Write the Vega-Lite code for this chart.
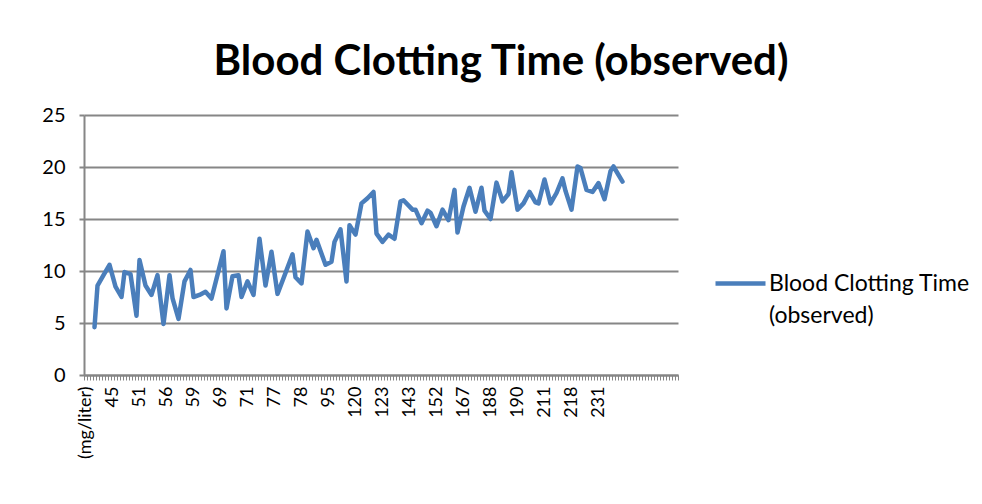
{
  "$schema": "https://vega.github.io/schema/vega-lite/v6.json",
  "width": 594,
  "height": 260,
  "autosize": {"type": "none"},
  "padding": {"left": 84, "top": 115, "right": 304, "bottom": 129},
  "background": "white",
  "title": {
    "text": "Blood Clotting Time (observed)",
    "font": "Lato",
    "fontSize": 42,
    "fontWeight": "bold",
    "color": "#000000",
    "anchor": "middle",
    "baseline": "alphabetic",
    "offset": -12,
    "dx": 120
  },
  "data": {
    "values": [
      {"i": 4, "v": 4.6}, {"i": 5, "v": 8.6}, {"i": 7, "v": 9.6}, {"i": 9, "v": 10.6},
      {"i": 11, "v": 8.5}, {"i": 13, "v": 7.5}, {"i": 14, "v": 9.9}, {"i": 16, "v": 9.7},
      {"i": 18, "v": 5.7}, {"i": 19, "v": 11.05}, {"i": 21, "v": 8.6}, {"i": 23, "v": 7.7},
      {"i": 25, "v": 9.6}, {"i": 27, "v": 4.9}, {"i": 29, "v": 9.6}, {"i": 30, "v": 7.4},
      {"i": 32, "v": 5.4}, {"i": 34, "v": 9.0}, {"i": 36, "v": 10.1}, {"i": 37, "v": 7.5},
      {"i": 39, "v": 7.7}, {"i": 41, "v": 8.0}, {"i": 43, "v": 7.35}, {"i": 47, "v": 11.9},
      {"i": 48, "v": 6.4}, {"i": 50, "v": 9.5}, {"i": 52, "v": 9.6}, {"i": 53, "v": 7.5},
      {"i": 55, "v": 9.0}, {"i": 57, "v": 7.7}, {"i": 59, "v": 13.1}, {"i": 61, "v": 8.6},
      {"i": 63, "v": 11.85}, {"i": 65, "v": 7.8}, {"i": 67, "v": 9.3}, {"i": 70, "v": 11.6},
      {"i": 71, "v": 9.4}, {"i": 73, "v": 8.8}, {"i": 75, "v": 13.8}, {"i": 77, "v": 12.2},
      {"i": 78, "v": 13.0}, {"i": 81, "v": 10.6}, {"i": 83, "v": 10.9}, {"i": 84, "v": 12.8},
      {"i": 86, "v": 14.0}, {"i": 88, "v": 9.0}, {"i": 89, "v": 14.4}, {"i": 91, "v": 13.5},
      {"i": 93, "v": 16.5}, {"i": 95, "v": 17.0}, {"i": 97, "v": 17.6}, {"i": 98, "v": 13.6},
      {"i": 100, "v": 12.8}, {"i": 102, "v": 13.5}, {"i": 104, "v": 13.1}, {"i": 106, "v": 16.7},
      {"i": 107, "v": 16.8}, {"i": 110, "v": 15.9}, {"i": 111, "v": 15.9}, {"i": 113, "v": 14.6},
      {"i": 115, "v": 15.8}, {"i": 116, "v": 15.6}, {"i": 118, "v": 14.3}, {"i": 120, "v": 15.9},
      {"i": 122, "v": 14.9}, {"i": 124, "v": 17.8}, {"i": 125, "v": 13.7}, {"i": 127, "v": 16.2},
      {"i": 129, "v": 18.0}, {"i": 131, "v": 15.7}, {"i": 133, "v": 18.0}, {"i": 134, "v": 15.8},
      {"i": 136, "v": 15.0}, {"i": 138, "v": 18.5}, {"i": 140, "v": 16.7}, {"i": 142, "v": 17.4},
      {"i": 143, "v": 19.5}, {"i": 145, "v": 15.9}, {"i": 147, "v": 16.5}, {"i": 149, "v": 17.6},
      {"i": 151, "v": 16.6}, {"i": 152, "v": 16.5}, {"i": 154, "v": 18.8}, {"i": 156, "v": 16.5},
      {"i": 158, "v": 17.5}, {"i": 160, "v": 18.9}, {"i": 161, "v": 17.7}, {"i": 163, "v": 15.9},
      {"i": 165, "v": 20.05}, {"i": 166, "v": 19.9}, {"i": 168, "v": 17.8}, {"i": 170, "v": 17.6},
      {"i": 172, "v": 18.45}, {"i": 174, "v": 16.9}, {"i": 176, "v": 19.6}, {"i": 177, "v": 20.05},
      {"i": 180, "v": 18.6}
    ]
  },
  "mark": {"type": "line", "strokeWidth": 4.5, "strokeJoin": "round", "strokeCap": "round"},
  "encoding": {
    "x": {
      "field": "i",
      "type": "ordinal",
      "scale": {
        "type": "band",
        "paddingInner": 0,
        "paddingOuter": 0,
        "domain": [1,2,3,4,5,6,7,8,9,10,11,12,13,14,15,16,17,18,19,20,21,22,23,24,25,26,27,28,29,30,31,32,33,34,35,36,37,38,39,40,41,42,43,44,45,46,47,48,49,50,51,52,53,54,55,56,57,58,59,60,61,62,63,64,65,66,67,68,69,70,71,72,73,74,75,76,77,78,79,80,81,82,83,84,85,86,87,88,89,90,91,92,93,94,95,96,97,98,99,100,101,102,103,104,105,106,107,108,109,110,111,112,113,114,115,116,117,118,119,120,121,122,123,124,125,126,127,128,129,130,131,132,133,134,135,136,137,138,139,140,141,142,143,144,145,146,147,148,149,150,151,152,153,154,155,156,157,158,159,160,161,162,163,164,165,166,167,168,169,170,171,172,173,174,175,176,177,178,179,180,181,182,183,184,185,186,187,188,189,190,191,192,193,194,195,196,197,198]
      },
      "axis": {
        "title": null,
        "tickBand": "extent",
        "ticks": true,
        "tickSize": 5,
        "tickWidth": 1,
        "tickColor": "#868686",
        "domainColor": "#868686",
        "domainWidth": 2,
        "grid": false,
        "labelAngle": -90,
        "labelAlign": "right",
        "labelBaseline": "middle",
        "labelPadding": 6,
        "labelOverlap": false,
        "labelBound": false,
        "labelFlush": false,
        "labelFont": "Lato",
        "labelFontSize": 18,
        "labelColor": "#000000",
        "labelExpr": "datum.value % 9 == 1 ? ['(mg/liter)','45','51','56','59','69','71','77','78','95','120','123','143','152','167','188','190','211','218','231'][floor(datum.value / 9)] : ''"
      }
    },
    "y": {
      "field": "v",
      "type": "quantitative",
      "scale": {"domain": [0, 25], "nice": false},
      "axis": {
        "title": null,
        "values": [0, 5, 10, 15, 20, 25],
        "grid": true,
        "gridColor": "#868686",
        "gridWidth": 2,
        "domainColor": "#868686",
        "domainWidth": 2,
        "tickColor": "#868686",
        "tickSize": 5,
        "tickWidth": 2,
        "labelPadding": 14,
        "labelFont": "Lato",
        "labelFontSize": 20,
        "labelColor": "#000000"
      }
    },
    "color": {
      "datum": "Blood Clotting Time (observed)",
      "type": "nominal",
      "scale": {"range": ["#4A7EBB"]},
      "legend": {
        "title": null,
        "orient": "none",
        "legendX": 629,
        "legendY": 141,
        "symbolType": "stroke",
        "symbolSize": 2500,
        "symbolStrokeWidth": 4.5,
        "labelFont": "Lato",
        "labelFontSize": 23,
        "labelColor": "#000000",
        "labelLimit": 400,
        "labelOffset": 1,
        "labelExpr": "['Blood Clotting Time', '(observed)']",
        "encode": {"labels": {"update": {"lineHeight": {"value": 32}}}}
      }
    }
  },
  "config": {"view": {"stroke": null}}
}
